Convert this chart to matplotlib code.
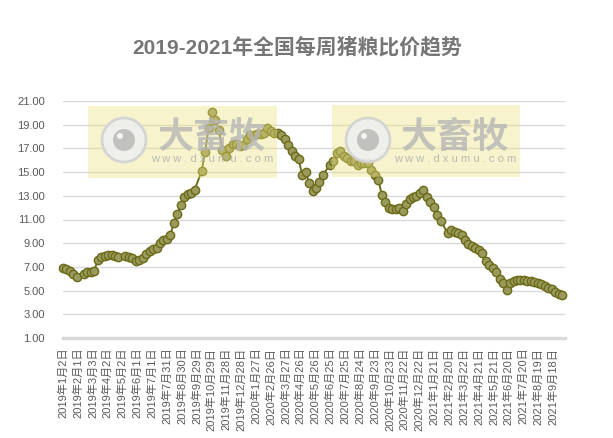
import matplotlib
matplotlib.use("Agg")
import matplotlib.pyplot as plt
from matplotlib.patches import Rectangle, Circle
import pandas as pd

plt.rcParams['font.family'] = ['Liberation Sans', 'Noto Sans CJK SC', 'DejaVu Sans']

title = "2019-2021年全国每周猪粮比价趋势"
start_date = "2019-01-02"
n_weeks = 145
missing_weeks = [5, 17, 39, 76, 110]
ratio = [
    6.92, 6.80, 6.68, 6.42, 6.16,
    6.43, 6.53, 6.59, 6.67, 7.55, 7.83, 7.91, 7.97, 7.99, 7.88, 7.86,
    7.88, 7.83, 7.75, 7.50, 7.60, 7.77, 8.10, 8.33, 8.48, 8.60, 9.04,
    9.24, 9.38, 9.72, 10.70, 11.50, 12.20, 12.90, 13.16, 13.20, 13.50,
    15.10, 16.70, 18.70, 20.10, 19.40, 18.55, 16.85, 16.40, 17.00, 17.36,
    17.36, 17.20, 17.30, 17.80, 18.10, 18.15, 18.20, 18.25, 18.30, 18.70,
    18.50, 18.30, 18.26, 18.10, 17.80, 17.30, 16.80, 16.40, 16.10, 14.76,
    15.04, 14.10, 13.40, 13.70, 14.20, 14.76,
    15.60, 15.96, 16.60, 16.80, 16.40, 16.16, 15.90, 15.96, 15.60, 15.80,
    15.77, 15.77, 15.20, 14.76, 14.30, 13.10, 12.46, 11.96, 11.85, 11.90,
    11.96, 11.70, 12.30, 12.70, 12.90, 12.97, 13.20, 13.50, 12.90, 12.50,
    12.04, 11.40, 10.87,
    9.86, 10.10, 9.94, 9.86, 9.70, 9.30, 8.96, 8.80, 8.60, 8.46, 8.18,
    7.50, 7.14, 6.94, 6.58, 5.94, 5.60, 5.04, 5.66, 5.82, 5.88, 5.88,
    5.88, 5.82, 5.80, 5.74, 5.66, 5.54, 5.40, 5.26, 5.10, 4.84, 4.70, 4.62,
]
y_ticks = [1, 3, 5, 7, 9, 11, 13, 15, 17, 19, 21]
tick_step_days = 30
n_xticks = 34
axis_span_days = 1014

dates = pd.date_range(start_date, periods=n_weeks, freq="7D").delete(missing_weeks)
assert len(dates) == len(ratio)

W, H = 613, 438
fig = plt.figure(figsize=(W / 100, H / 100), dpi=100)
ax = fig.add_axes([63 / W, 1 - 338 / H, (565 - 63) / W, (338 - 101) / H])

gray_txt = "#595959"
grid_c = "#d9d9d9"

ax.plot(dates, ratio, color="#6b6b1a", lw=1.4, marker="o", ms=6.0,
        mfc="#9a9a5c", mec="#6b6b1a", mew=1.0, zorder=3, clip_on=False)

t0 = pd.Timestamp(start_date)
ax.set_xlim(t0, t0 + pd.Timedelta(days=axis_span_days))
ax.set_ylim(1, 21)
ax.set_yticks(y_ticks)
ax.set_yticklabels([f"{v:.2f}" for v in y_ticks])
ax.yaxis.grid(True, color=grid_c, lw=1.0)
ax.set_axisbelow(True)

xt = [t0 + pd.Timedelta(days=tick_step_days * k) for k in range(n_xticks)]
ax.set_xticks(xt)
ax.set_xticklabels([f"{d.year}年{d.month}月{d.day}日" for d in xt], rotation=90)

for s in ["top", "right", "left"]:
    ax.spines[s].set_visible(False)
ax.spines["bottom"].set_color(grid_c)
ax.spines["bottom"].set_linewidth(2.5)
ax.tick_params(axis="both", length=0, labelsize=8, labelcolor=gray_txt)
ax.tick_params(axis="y", pad=13)
ax.tick_params(axis="x", pad=7)

fig.text(297 / W, 1 - 47 / H, title, ha="center", va="center",
         fontsize=15, fontweight="bold", color="#767676")

# watermarks
tr = fig.dpi_scale_trans
def P(x, y):
    return (x / 100, (H - y) / 100)

def watermark(x0, x1, y0, y1, cx, cy, tx, ty):
    fig.add_artist(Rectangle(P(x0, y1), (x1 - x0) / 100, (y1 - y0) / 100,
                             transform=tr, facecolor="#ece27a", alpha=0.38,
                             edgecolor="none", zorder=5))
    fig.add_artist(Circle(P(cx, cy), 0.22, transform=tr, facecolor="#efefef",
                          edgecolor="#d2d2d2", lw=2, alpha=0.9, zorder=6))
    fig.add_artist(Circle(P(cx, cy), 0.11, transform=tr, facecolor="#bcbcbc",
                          edgecolor="none", alpha=0.9, zorder=7))
    fig.add_artist(Circle(P(cx - 4, cy - 4), 0.03, transform=tr,
                          facecolor="#f4f4f4", edgecolor="none", zorder=8))
    fig.text(*P(tx, ty), "大畜牧", transform=tr, ha="center", va="center",
             fontsize=26, fontweight="bold", color="#b6b6b6", alpha=0.8,
             family=["Noto Sans CJK SC"], zorder=7)
    fig.text(*P(tx, ty + 22), "w w w . d x u m u . c o m", transform=tr,
             ha="center", va="center", fontsize=8, color="#b0b0b0",
             alpha=0.85, zorder=7)

watermark(88, 277, 106, 178, 124, 140, 212, 137)
watermark(332, 520, 105, 177, 368, 140, 455, 137)

fig.savefig("out.png", dpi=100)
